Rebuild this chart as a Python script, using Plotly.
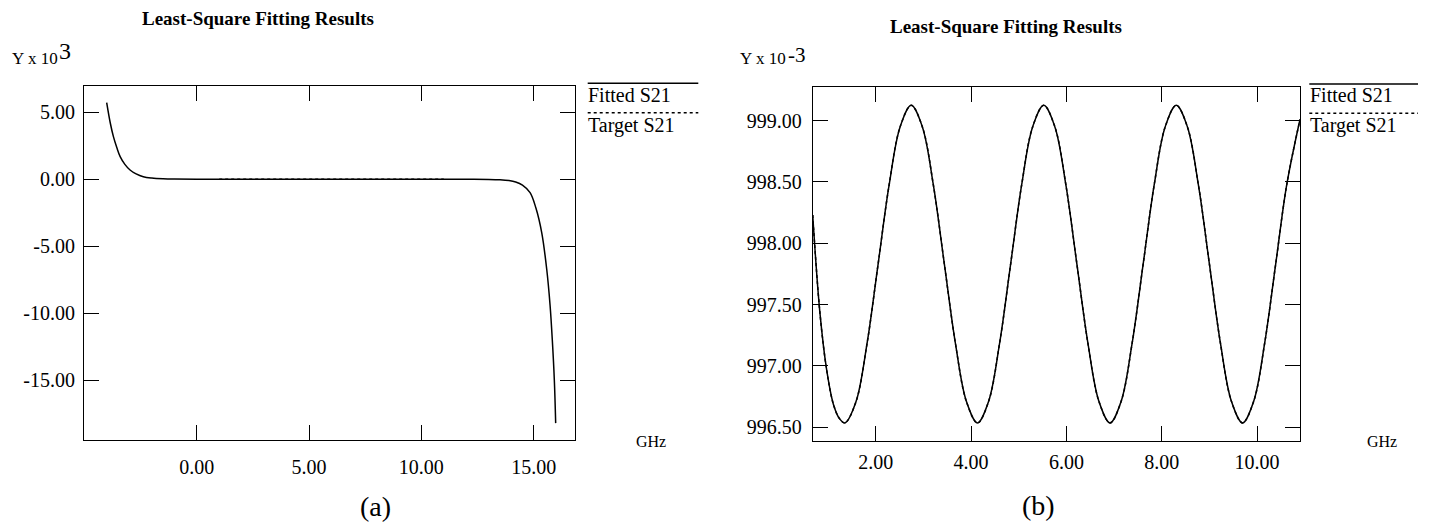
import plotly.graph_objects as go

W, H = 1429, 524

# ---------------- data ----------------
# (a) left panel
fit_a_x = [-4.01, -3.85, -3.71, -3.56, -3.41, -3.2, -2.97, -2.7, -2.38, -2.0, -1.5, -1.0,
           0.0, 2.0, 6.0, 10.0, 12.0, 13.0, 13.5, 13.9, 14.2, 14.5, 14.84, 15.1, 15.36,
           15.58, 15.73, 15.83, 15.92, 15.98]
fit_a_y = [5.72, 4.2, 3.18, 2.37, 1.69, 1.11, 0.69, 0.40, 0.19, 0.09, 0.035, 0.013,
           0.0, 0.0, 0.0, 0.0, -0.004, -0.012, -0.04, -0.10, -0.21, -0.44, -1.0, -2.15, -4.0,
           -6.7, -9.4, -12.0, -15.0, -18.2]
target_a_x = [1.0, 3.0, 5.0, 7.0, 9.0, 11.0]
target_a_y = [0.0, 0.0, 0.0, 0.0, 0.0, 0.0]

# (b) right panel
fit_b_x = [0.678, 0.83, 0.97, 1.11, 1.24, 1.355, 1.587, 1.818, 2.050, 2.282, 2.513, 2.745,
           2.977, 3.208, 3.440, 3.672, 3.903, 4.135, 4.367, 4.598, 4.830, 5.062, 5.293,
           5.525, 5.757, 5.988, 6.220, 6.452, 6.683, 6.915, 7.147, 7.378, 7.610, 7.842,
           8.073, 8.305, 8.537, 8.768, 9.000, 9.232, 9.463, 9.695, 9.927, 10.158, 10.390,
           10.622, 10.90]
fit_b_y = [998.23, 997.43, 996.97, 996.69, 996.57, 996.535, 996.709, 997.183, 997.83,
           998.478, 998.951, 999.125, 998.951, 998.478, 997.83, 997.183, 996.709, 996.535,
           996.709, 997.183, 997.83, 998.478, 998.951, 999.125, 998.951, 998.478, 997.83,
           997.183, 996.709, 996.535, 996.709, 997.183, 997.83, 998.478, 998.951, 999.125,
           998.951, 998.478, 997.83, 997.183, 996.709, 996.535, 996.709, 997.183, 997.83,
           998.478, 999.01]
target_b_x = fit_b_x
target_b_y = fit_b_y

# tick labels
xa_tickvals = [0, 5, 10, 15]
xa_ticktext = ["0.00", "5.00", "10.00", "15.00"]
ya_tickvals = [5, 0, -5, -10, -15]
ya_ticktext = ["5.00", "0.00", "-5.00", "-10.00", "-15.00"]
xb_tickvals = [2, 4, 6, 8, 10]
xb_ticktext = ["2.00", "4.00", "6.00", "8.00", "10.00"]
yb_tickvals = [999.0, 998.5, 998.0, 997.5, 997.0, 996.5]
yb_ticktext = ["999.00", "998.50", "998.00", "997.50", "997.00", "996.50"]

title_text = "Least-Square Fitting Results"
legend_fit = "Fitted S21"
legend_target = "Target S21"

# ---------------- figure ----------------
FONT = "Liberation Serif"

def px(x):
    return x / W

def py(y):
    return 1 - y / H

fig = go.Figure()
solid = dict(color="black", width=1.5, shape="spline", smoothing=1.0)
dotted = dict(color="black", width=1.5, dash="dot")

fig.add_trace(go.Scatter(x=fit_a_x, y=fit_a_y, mode="lines", line=solid,
                         xaxis="x", yaxis="y", name=legend_fit, showlegend=False))
fig.add_trace(go.Scatter(x=target_a_x, y=target_a_y, mode="lines", line=dotted,
                         xaxis="x", yaxis="y", name=legend_target, showlegend=False))
fig.add_trace(go.Scatter(x=fit_b_x, y=fit_b_y, mode="lines", line=solid,
                         xaxis="x2", yaxis="y2", name=legend_fit, showlegend=False))
fig.add_trace(go.Scatter(x=target_b_x, y=target_b_y, mode="lines",
                         line=dict(color="black", width=1.5, dash="dot", shape="spline"),
                         xaxis="x2", yaxis="y2", name=legend_target, showlegend=False))

axis_style = dict(showline=True, linecolor="black", linewidth=1, mirror="ticks",
                  ticks="inside", ticklen=15, tickcolor="black", tickwidth=1,
                  showgrid=False, zeroline=False, tickmode="array",
                  tickfont=dict(family=FONT, size=20, color="black"))

fig.update_layout(
    width=W, height=H, margin=dict(l=0, r=0, t=0, b=0),
    paper_bgcolor="white", plot_bgcolor="white",
    xaxis=dict(axis_style, domain=[px(84), px(575)], range=[-5.02, 16.84], anchor="y",
               tickvals=xa_tickvals, ticktext=xa_ticktext, ticklabelstandoff=9),
    yaxis=dict(axis_style, domain=[py(440), py(86)], range=[-19.46, 6.96], anchor="x",
               tickvals=ya_tickvals, ticktext=ya_ticktext, ticklabelstandoff=4),
    xaxis2=dict(axis_style, domain=[px(812.7), px(1300)], range=[0.678, 10.90], anchor="y2",
                tickvals=xb_tickvals, ticktext=xb_ticktext, ticklabelstandoff=3),
    yaxis2=dict(axis_style, domain=[py(440.7), py(87.3)], range=[996.39, 999.272], anchor="x2",
                tickvals=yb_tickvals, ticktext=yb_ticktext, ticklabelstandoff=6),
)

shapes = []
for (x0, x1, ys, yd) in [(587.7, 698.3, 83.3, 112.7), (1309.3, 1418, 84, 113.3)]:
    shapes.append(dict(type="line", xref="paper", yref="paper", x0=px(x0), x1=px(x1),
                       y0=py(ys), y1=py(ys), line=dict(color="black", width=1.5)))
    shapes.append(dict(type="line", xref="paper", yref="paper", x0=px(x0), x1=px(x1),
                       y0=py(yd), y1=py(yd), line=dict(color="black", width=1.5, dash="dot")))
fig.update_layout(shapes=shapes)

def ann(text, x, y, size, xanchor="center", yanchor="middle"):
    fig.add_annotation(text=text, x=px(x), y=py(y), xref="paper", yref="paper",
                       showarrow=False, xanchor=xanchor, yanchor=yanchor,
                       font=dict(family=FONT, size=size, color="black"))

ann("<b>" + title_text + "</b>", 258, 18, 19)
ann("<b>" + title_text + "</b>", 1006, 26, 19)
ann("Y x 10", 10, 58, 17, xanchor="left")
ann("3", 57, 51, 24, xanchor="left")
ann("Y x 10", 738, 58, 17, xanchor="left")
ann("-3", 786, 55, 21, xanchor="left")
ann(legend_fit, 586, 95, 20, xanchor="left")
ann(legend_target, 586, 125, 20, xanchor="left")
ann(legend_fit, 1307.5, 95, 20, xanchor="left")
ann(legend_target, 1307.5, 125, 20, xanchor="left")
ann("GHz", 651, 441, 16)
ann("GHz", 1382, 441, 16)
ann("(a)", 375.5, 506, 28)
ann("(b)", 1038, 505, 28)

fig.write_html("out.html")
